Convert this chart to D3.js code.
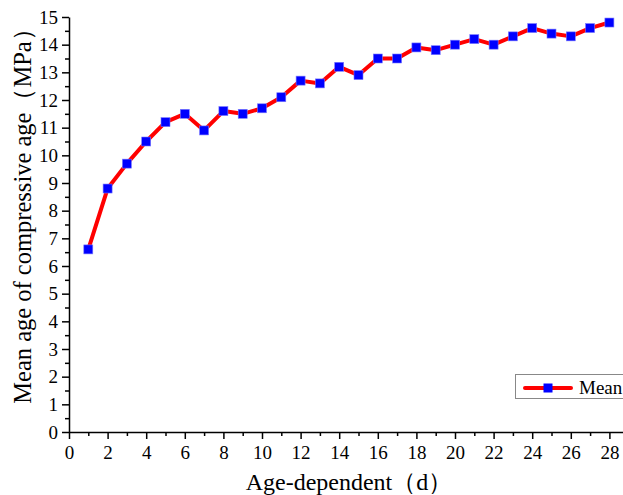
<!DOCTYPE html>
<meta charset="utf-8">
<script src="https://d3js.org/d3.v7.min.js"></script>
<style>
body { margin: 0; background: #fff; }
text { font-family: "Liberation Serif", "Times New Roman", serif; fill: #000; }
.axis path, .axis line { stroke: #000; stroke-width: 1.5px; }
</style>
<body>
<div id="chart"></div>
</body>
<script>
// age in days and the mean compressive strength
const days = [1,2,3,4,5,6,7,8,9,10,11,12,13,14,15,16,17,18,19,20,21,22,23,24,25,26,27,28];
const meanVals = [6.6,8.8,9.7,10.5,11.2,11.5,10.9,11.6,11.5,11.7,12.1,12.7,12.6,13.2,
                  12.9,13.5,13.5,13.9,13.8,14.0,14.2,14.0,14.3,14.6,14.4,14.3,14.6,14.8];
const xTicks = [0,2,4,6,8,10,12,14,16,18,20,22,24,26,28];
const yTicks = [0,1,2,3,4,5,6,7,8,9,10,11,12,13,14,15];
const seriesName = "Mean";

const W = 623, H = 495;
const x0 = 69, y0 = 432, yTop = 17;

const svg = d3.select("#chart").append("svg")
  .attr("width", W).attr("height", H);

const x = d3.scaleLinear().domain([0, 29]).range([x0, x0 + 29 * 19.3]);
const y = d3.scaleLinear().domain([0, 15]).range([y0, yTop]);

// minor ticks first so the major ones draw on top
svg.append("g").attr("class", "axis")
  .attr("transform", `translate(0,${y0})`)
  .call(d3.axisBottom(x).tickValues(d3.range(1, 29, 2)).tickSize(4).tickFormat(""))
  .call(g => g.select(".domain").remove());
svg.append("g").attr("class", "axis")
  .attr("transform", `translate(${x0},0)`)
  .call(d3.axisLeft(y).tickValues(d3.range(0.5, 15, 1)).tickSize(4).tickFormat(""))
  .call(g => g.select(".domain").remove());

const xAxis = svg.append("g").attr("class", "axis")
  .attr("transform", `translate(0,${y0})`)
  .call(d3.axisBottom(x).tickValues(xTicks).tickSize(7).tickPadding(7).tickSizeOuter(0));
xAxis.selectAll("text").style("font-size", "19px");

const yAxis = svg.append("g").attr("class", "axis")
  .attr("transform", `translate(${x0},0)`)
  .call(d3.axisLeft(y).tickValues(yTicks).tickSize(7).tickPadding(4).tickSizeOuter(0));
yAxis.selectAll("text").style("font-size", "19px");

// axis titles
svg.append("text")
  .attr("x", 349).attr("y", 490)
  .attr("text-anchor", "middle")
  .style("font-size", "24px")
  .text("Age-dependent（d）");

svg.append("text")
  .attr("transform", "translate(31,210) rotate(-90)")
  .attr("text-anchor", "middle")
  .style("font-size", "24.5px")
  .text("Mean age of compressive age（MPa）");

// series
const line = d3.line()
  .x((d, i) => x(days[i]))
  .y(d => y(d));

svg.append("path")
  .datum(meanVals)
  .attr("d", line)
  .attr("fill", "none")
  .attr("stroke", "#ff0000")
  .attr("stroke-width", 4)
  .attr("stroke-linejoin", "round");

svg.append("g").selectAll("rect")
  .data(meanVals)
  .enter().append("rect")
    .attr("x", (d, i) => x(days[i]) - 4.5)
    .attr("y", d => y(d) - 4.5)
    .attr("width", 9).attr("height", 9)
    .attr("fill", "#0000ff")
    .attr("stroke", "#7a7aff")
    .attr("stroke-width", 0.6);

// legend
const lg = svg.append("g").attr("transform", "translate(515,374)");
lg.append("rect")
  .attr("x", 0.5).attr("y", 0.5)
  .attr("width", 120).attr("height", 24)
  .attr("fill", "#fff").attr("stroke", "#888").attr("stroke-width", 1);
lg.append("line")
  .attr("x1", 10).attr("x2", 56).attr("y1", 14).attr("y2", 14)
  .attr("stroke", "#ff0000").attr("stroke-width", 4).attr("stroke-linecap", "round");
lg.append("rect")
  .attr("x", 28.5).attr("y", 9.5).attr("width", 9).attr("height", 9)
  .attr("fill", "#0000ff");
lg.append("text")
  .attr("x", 64).attr("y", 20)
  .style("font-size", "19px")
  .text(seriesName);
</script>
